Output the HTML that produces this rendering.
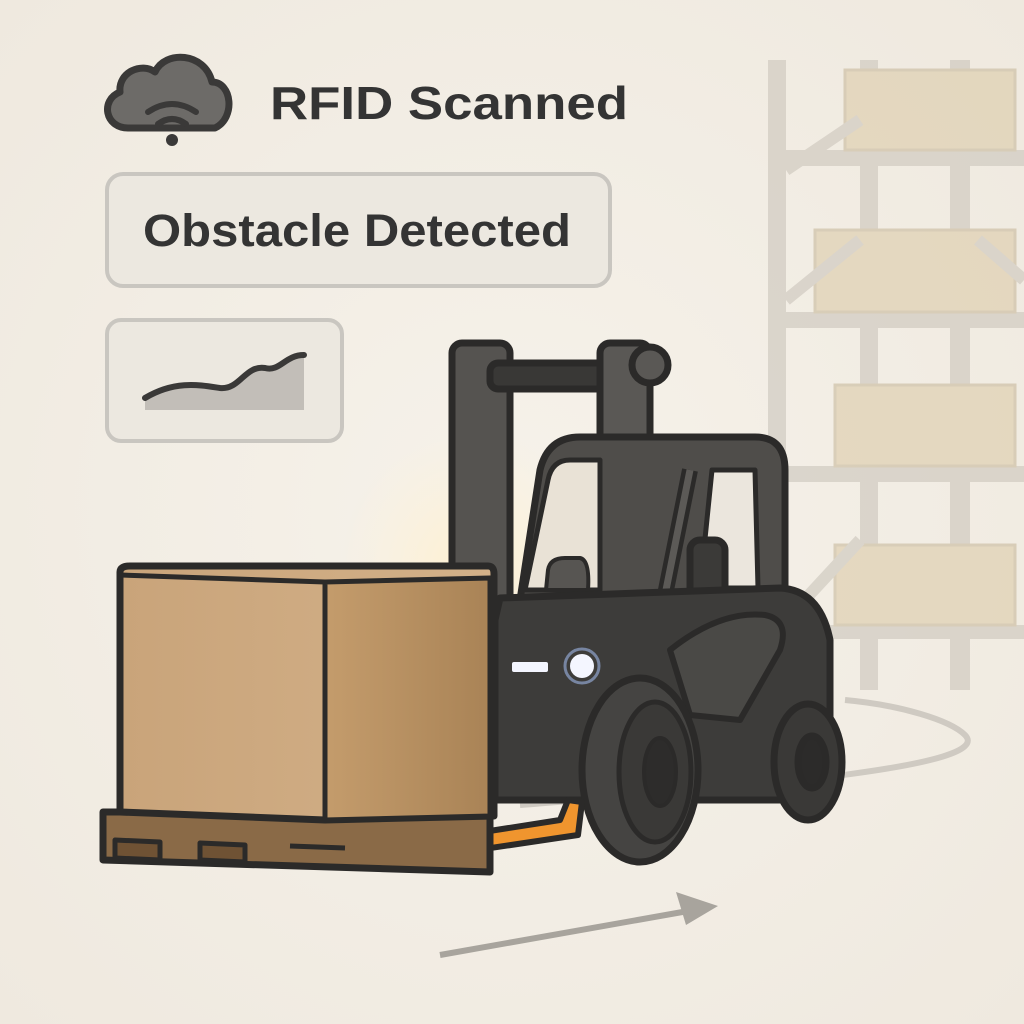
<!DOCTYPE html>
<html><head><meta charset="utf-8"><style>
html,body{margin:0;padding:0;background:#f3eee5;}
svg{display:block}
text{font-family:"Liberation Sans",sans-serif;font-weight:bold;fill:#343434}
</style></head><body>
<svg width="1024" height="1024" viewBox="0 0 1024 1024" xmlns="http://www.w3.org/2000/svg">
<defs>
<radialGradient id="bg" cx="0.5" cy="0.5" r="0.7"><stop offset="0" stop-color="#f6f2ea"/><stop offset="1" stop-color="#efe9df"/></radialGradient>
<radialGradient id="glow" cx="0.5" cy="0.5" r="0.5"><stop offset="0" stop-color="#fff0cf" stop-opacity="0.95"/><stop offset="1" stop-color="#fff3d8" stop-opacity="0"/></radialGradient>
<linearGradient id="front" x1="0" y1="0" x2="1" y2="0"><stop offset="0" stop-color="#c9a47a"/><stop offset="1" stop-color="#d3b189"/></linearGradient>
<linearGradient id="side" x1="0" y1="0" x2="1" y2="0"><stop offset="0" stop-color="#c49c6c"/><stop offset="1" stop-color="#a98356"/></linearGradient>
</defs>
<rect width="1024" height="1024" fill="url(#bg)"/>
<!-- shelving -->
<g opacity="0.6">
<g fill="#cbc5bb">
<rect x="768" y="60" width="18" height="630"/><rect x="860" y="60" width="18" height="630"/><rect x="950" y="60" width="20" height="630"/>
<rect x="768" y="150" width="256" height="16"/><rect x="768" y="312" width="256" height="16"/><rect x="768" y="466" width="256" height="16"/><rect x="768" y="625" width="256" height="14"/>
</g>
<g fill="#dccba9" stroke="#c8b99c" stroke-width="3">
<rect x="845" y="70" width="170" height="80"/><rect x="815" y="230" width="200" height="82"/><rect x="835" y="385" width="180" height="81"/><rect x="835" y="545" width="180" height="80"/>
</g>
<g stroke="#cbc5bb" stroke-width="12"><line x1="786" y1="170" x2="860" y2="120"/><line x1="786" y1="300" x2="860" y2="240"/><line x1="786" y1="620" x2="860" y2="540"/><line x1="978" y1="240" x2="1024" y2="280"/></g>
</g>
<!-- floor path -->
<path d="M520 805 C700 790 1000 770 965 735 C950 720 900 705 845 700" fill="none" stroke="#cfcac2" stroke-width="6"/>
<path d="M440 955 L705 908" stroke="#a8a49d" stroke-width="6" fill="none"/>
<path d="M718 906 L676 892 L686 925 Z" fill="#a8a49d"/>
<!-- cloud icon -->
<path d="M128 128 C105 128 100 100 120 92 C118 72 142 62 155 72 C165 50 205 52 212 82 C232 82 236 118 215 128 Z" fill="#6d6b68" stroke="#3a3938" stroke-width="7" stroke-linejoin="round"/>
<g fill="none" stroke="#3a3938" stroke-width="6" stroke-linecap="round">
<path d="M148 112 Q172 96 196 112"/><path d="M158 124 Q172 114 186 124"/></g>
<circle cx="172" cy="140" r="6" fill="#3a3938"/>
<text x="270" y="119" font-size="46" textLength="358" lengthAdjust="spacingAndGlyphs">RFID Scanned</text>
<rect x="107" y="174" width="503" height="112" rx="16" fill="#ece8e0" stroke="#c9c6c0" stroke-width="4"/>
<text x="143" y="246" font-size="45" textLength="428" lengthAdjust="spacingAndGlyphs">Obstacle Detected</text>
<rect x="107" y="320" width="235" height="121" rx="14" fill="#ece8e0" stroke="#c9c6c0" stroke-width="4"/>
<path d="M145 398 C175 380 200 385 220 388 C240 390 245 365 265 368 C280 372 285 355 304 355 L304 410 L145 410 Z" fill="#c2beb8"/>
<path d="M145 398 C175 380 200 385 220 388 C240 390 245 365 265 368 C280 372 285 355 304 355" fill="none" stroke="#3a3938" stroke-width="6" stroke-linecap="round"/>
<!-- glow -->
<ellipse cx="470" cy="570" rx="130" ry="140" fill="url(#glow)"/>
<!-- forklift -->
<g stroke="#2b2a29" stroke-width="7" stroke-linejoin="round">
<rect x="452" y="343" width="58" height="320" rx="10" fill="#555350"/>
<rect x="490" y="363" width="150" height="26" rx="8" fill="#393836"/>
<rect x="600" y="343" width="50" height="330" rx="10" fill="#5a5855"/>
<circle cx="650" cy="365" r="18" fill="#5a5855"/>
<path d="M520 600 L540 470 Q548 437 580 437 L755 437 Q785 437 785 470 L785 590 L780 600 Z" fill="#4f4d4a"/>
<path d="M525 590 L548 480 Q552 460 570 460 L600 460 L600 590 Z" fill="#e9e2d6" stroke-width="5"/>
<path d="M700 588 L712 470 L755 470 L758 588 Z" fill="#ebe6dd" stroke-width="5"/>
<path d="M546 590 L548 570 Q550 558 565 558 L580 558 Q590 560 588 590 Z" fill="#575552" stroke-width="4"/>
<path d="M652 660 L690 470" stroke-width="16" fill="none"/>
<path d="M652 660 L690 470" stroke="#5c5a57" stroke-width="7" fill="none"/>
<rect x="690" y="540" width="35" height="60" rx="10" fill="#3b3a38"/>
<path d="M495 620 L495 800 L830 800 L830 640 Q820 590 780 588 L500 598 Z" fill="#3d3c3a"/>
<path d="M670 650 Q720 610 765 615 Q790 620 780 650 L740 720 L690 715 Z" fill="#4a4946" stroke-width="6"/>
<ellipse cx="808" cy="762" rx="34" ry="58" fill="#3a3937"/>
<ellipse cx="812" cy="762" rx="14" ry="26" fill="#2c2b2a"/>
<ellipse cx="640" cy="770" rx="58" ry="92" fill="#454442"/>
<ellipse cx="655" cy="772" rx="36" ry="70" fill="#3a3937" stroke-width="5"/>
<ellipse cx="660" cy="772" rx="16" ry="34" fill="#2d2c2b" stroke-width="4"/>
<path d="M400 845 L560 820 L568 800 L582 802 L578 835 L410 860 Z" fill="#f0952e" stroke-width="6"/>
</g>
<rect x="512" y="662" width="36" height="10" rx="2" fill="#f4f6ff"/>
<circle cx="582" cy="666" r="12" fill="#f4f6ff"/>
<circle cx="582" cy="666" r="17" fill="none" stroke="#9fb6e6" stroke-width="3" opacity="0.6"/>
<!-- box and pallet -->
<g stroke="#2b2a29" stroke-width="7" stroke-linejoin="round">
<path d="M103 812 L490 812 L490 872 L103 860 Z" fill="#8a6a47"/>
<path d="M115 840 L160 842 L160 860 L115 858 Z M200 843 L245 845 L245 862 L200 860 Z M290 846 L345 848" fill="#6f5234" stroke-width="5"/>
<path d="M120 572 Q120 566 130 566 L488 566 Q494 566 494 574 L494 816 L325 820 L120 812 Z" fill="url(#front)"/>
<path d="M325 582 L490 578 L490 816 L325 820 Z" fill="url(#side)" stroke-width="5"/>
<path d="M120 575 L325 582" fill="none" stroke-width="5"/>
</g>
</svg>
</body></html>
